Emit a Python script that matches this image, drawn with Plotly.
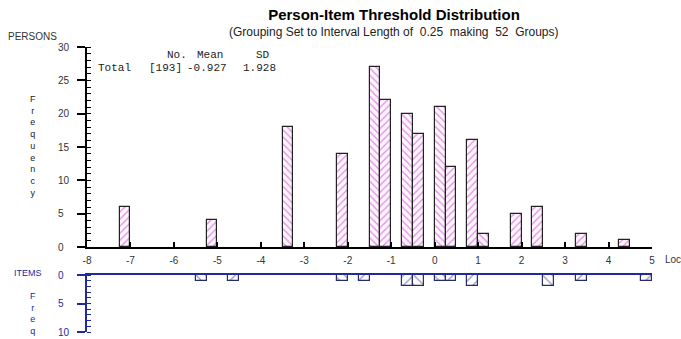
import plotly.graph_objects as go

# ---------------- data ----------------
person_bin_start = [-7.25, -5.25, -3.5, -2.25, -1.5, -1.25, -0.75, -0.5, 0.0, 0.25, 0.75, 1.0, 1.75, 2.25, 3.25, 4.25]
person_freq = [6, 4, 18, 14, 27, 22, 20, 17, 21, 12, 16, 2, 5, 6, 2, 1]
item_bin_start = [-5.5, -4.75, -2.25, -1.75, -0.75, -0.5, 0.0, 0.25, 0.75, 2.5, 3.25, 4.75]
item_freq = [1, 1, 1, 1, 2, 2, 1, 1, 2, 2, 1, 1]
bin_width = 0.25
x_ticks = [-8, -7, -6, -5, -4, -3, -2, -1, 0, 1, 2, 3, 4, 5]
x_tick_labels = ["-8", "-7", "-6", "-5", "-4", "-3", "-2", "-1", "0", "1", "2", "3", "4", "5"]
person_y_ticks = [0, 5, 10, 15, 20, 25, 30]
item_y_ticks = [0, 5, 10]
stats_header = ["No.", "Mean", "SD"]
stats_values = ["Total", "[193]", "-0.927", "1.928"]

# hatch styles (visual only)
person_hatch = ["/", "/", "\\", "/", "\\", "/", "\\", "/", "\\", "/", "/", "\\", "/", "/", "/", "/"]
item_hatch = ["\\", "/", "\\", "/", "/", "\\", "\\", "/", "/", "\\", "/", "/"]

W, H = 681, 339
ML, MR, MT, MB = 87, 29, 47, 7
PW = W - ML - MR
PH = H - MT - MB
BLUE = "#1e2a9e"
FONT = "Liberation Sans, Arial, sans-serif"
MONO = "Liberation Mono, Courier New, monospace"


def px(x):
    return (x - ML) / PW


def py(y):
    return (H - MB - y) / PH


fig = go.Figure()

fig.add_trace(go.Bar(
    x=person_bin_start, y=person_freq, width=bin_width, offset=0,
    xaxis="x", yaxis="y",
    marker=dict(color="white", line=dict(color="#222222", width=1.2),
                pattern=dict(shape=person_hatch, fgcolor="#c030c0", bgcolor="#fff6ff",
                             size=5, solidity=0.28)),
    showlegend=False, hoverinfo="x+y",
))

fig.add_trace(go.Bar(
    x=item_bin_start, y=item_freq, width=bin_width, offset=0,
    xaxis="x2", yaxis="y2",
    marker=dict(color="white", line=dict(color="#2a2a6a", width=1.2),
                pattern=dict(shape=item_hatch, fgcolor="#3a3a8a", bgcolor="white",
                             size=7, solidity=0.2)),
    showlegend=False, hoverinfo="x+y",
))

upper_bottom = py(247)
lower_top = py(275)

fig.update_layout(
    width=W, height=H,
    margin=dict(l=ML, r=MR, t=MT, b=MB, autoexpand=False),
    paper_bgcolor="white", plot_bgcolor="white",
    bargap=0,
    font=dict(family=FONT, size=10, color="#333333"),
    title=dict(text="<b>Person-Item Threshold Distribution</b>",
               x=px(394), xref="paper", xanchor="center",
               y=1 - 15 / H, yref="container", yanchor="middle",
               font=dict(family=FONT, size=15, color="black")),
    xaxis=dict(domain=[0, 1], anchor="y", range=[-8, 5], automargin=False,
               tickvals=x_ticks, ticktext=x_tick_labels,
               ticks="inside", ticklen=5, tickwidth=1.5, tickcolor="black",
               showline=True, linecolor="black", linewidth=2,
               showgrid=False, zeroline=False, ticklabelstandoff=3,
               tickfont=dict(size=10, color="#333333")),
    yaxis=dict(domain=[upper_bottom, 1], anchor="x", range=[0, 30], automargin=False,
               tickvals=person_y_ticks,
               ticktext=[f"{v}\u2007" if v < 10 else str(v) for v in person_y_ticks],
               ticks="outside", ticklen=8, tickwidth=1.5, tickcolor="black",
               minor=dict(dtick=1, ticks="inside", ticklen=4, tickcolor="black", tickwidth=1),
               showline=True, linecolor="black", linewidth=2,
               showgrid=False, zeroline=False, ticklabelstandoff=6,
               tickfont=dict(size=10, color="#333333")),
    xaxis2=dict(domain=[0, 1], anchor="y2", range=[-8, 5], matches="x", automargin=False,
                side="top", showticklabels=False, ticks="",
                showline=True, linecolor=BLUE, linewidth=2,
                showgrid=False, zeroline=False),
    yaxis2=dict(domain=[0, lower_top], anchor="x2", range=[10, 0], automargin=False,
                tickvals=item_y_ticks,
                ticktext=[f"{v}\u2007" if v < 10 else str(v) for v in item_y_ticks],
                ticks="outside", ticklen=8, tickwidth=1.5, tickcolor=BLUE,
                minor=dict(dtick=1, ticks="inside", ticklen=4, tickcolor=BLUE, tickwidth=1),
                showline=True, linecolor=BLUE, linewidth=2,
                showgrid=False, zeroline=False, ticklabelstandoff=6,
                tickfont=dict(size=10, color=BLUE)),
)

ann = []


def add_text(text, x, y, size=10, color="#333333", family=FONT, xanchor="left"):
    ann.append(dict(text=text, x=px(x), y=py(y), xref="paper", yref="paper",
                    xanchor=xanchor, yanchor="middle", showarrow=False,
                    font=dict(size=size, color=color, family=family)))


NB = "\u00a0"
add_text("(Grouping Set to Interval Length of" + NB * 2 + "0.25" + NB * 2 + "making" + NB * 2 + "52" + NB * 2 + "Groups)",
         394, 32, size=12, color="#222222", xanchor="center")
add_text("PERSONS", 6, 36, size=10, color="#333333")
add_text("<br>".join("Frequency"), 33, 146, size=9, color="#222222", xanchor="center")
add_text("ITEMS", 12, 273, size=9, color=BLUE)
add_text("<br>".join("Freq"), 33, 313, size=9, color=BLUE, xanchor="center")
add_text("Loc", 663, 259, size=10, color="#333333")

# statistics box (monospace)
add_text(stats_header[0], 165, 55, size=11, color="#222222", family=MONO)
add_text(stats_header[1], 195, 55, size=11, color="#222222", family=MONO)
add_text(stats_header[2], 254, 55, size=11, color="#222222", family=MONO)
add_text(stats_values[0], 96, 68, size=11, color="#222222", family=MONO)
add_text(stats_values[1], 147, 68, size=11, color="#222222", family=MONO)
add_text(stats_values[2], 185, 68, size=11, color="#222222", family=MONO)
add_text(stats_values[3], 241, 68, size=11, color="#222222", family=MONO)

fig.update_layout(annotations=ann)

fig.write_html("out.html")
